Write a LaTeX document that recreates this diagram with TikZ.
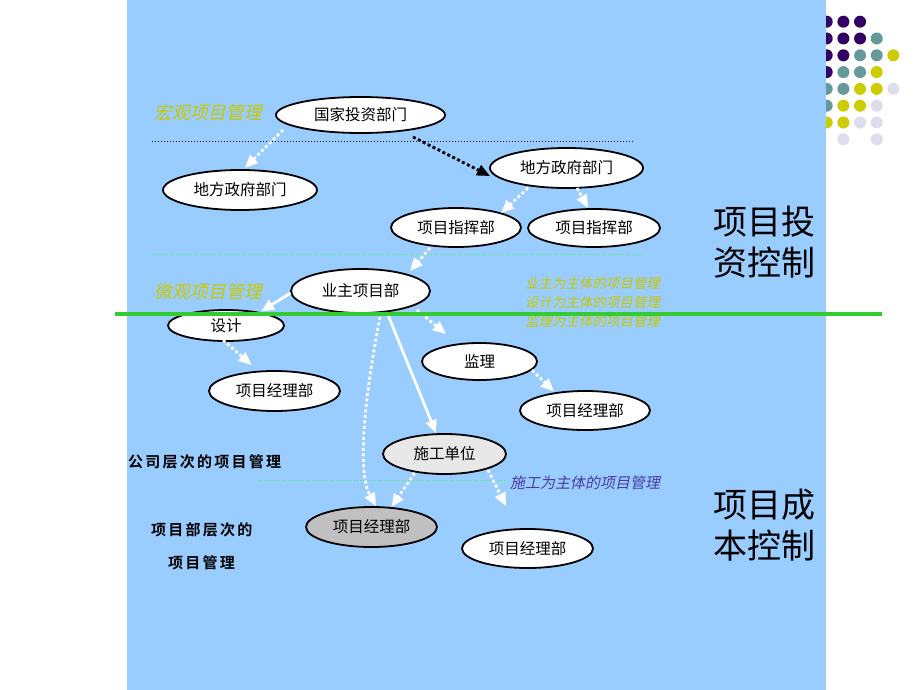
\documentclass[tikz,border=0pt]{standalone}
\usepackage{fontspec}
\setmainfont{Noto Sans CJK SC}
\newfontfamily\cjkit{Noto Sans CJK SC}[FakeSlant=0.2]
\newfontfamily\cjkbold{Noto Sans CJK SC Bold}[LetterSpace=15]
\usetikzlibrary{shapes.geometric,arrows.meta}
\definecolor{bgblue}{HTML}{99CCFF}
\definecolor{gline}{HTML}{33CC33}
\definecolor{ylw}{HTML}{C8C800}
\definecolor{purp}{HTML}{4A3AA0}
\definecolor{dotP}{HTML}{330066}
\definecolor{dotT}{HTML}{669999}
\definecolor{dotY}{HTML}{CCCC00}
\definecolor{dotL}{HTML}{DDDDEE}
\definecolor{lgrey}{HTML}{E8E8E8}
\definecolor{mgrey}{HTML}{C0C0C0}
\definecolor{gdot}{HTML}{33FF33}
\begin{document}
\begin{tikzpicture}[x=1pt,y=-1pt,
  ell/.style={ellipse,draw=black,line width=1.8pt,fill=white,inner sep=0pt,
    font=\fontsize{15.5}{15.5}\selectfont},
  warr/.style={draw=white,line width=2.8pt,-{Triangle[length=13pt,width=11pt]}},
  wdot/.style={warr,dash pattern=on 3pt off 2.5pt},
  bdot/.style={draw=black,line width=2.8pt,dash pattern=on 3pt off 2.5pt,
    -{Triangle[length=13pt,width=11pt]}},
  ylab/.style={text=ylw,inner sep=0pt,font=\cjkit\fontsize{18}{18}\selectfont},
  ysmall/.style={text=ylw,inner sep=0pt,anchor=west,font=\cjkit\fontsize{13.5}{13.5}\selectfont},
  plab/.style={text=purp,inner sep=0pt,anchor=west,font=\cjkit\fontsize{15}{15}\selectfont},
  blab/.style={text=black,inner sep=0pt,anchor=west,font=\cjkbold\fontsize{15}{15}\selectfont},
  big/.style={text=black,inner sep=0pt,anchor=west,font=\fontsize{34}{41.5}\selectfont,align=left}
]
\useasboundingbox (0,0) rectangle (920,690);
\fill[white] (0,0) rectangle (920,690);
% decorative dot grid
\foreach \c/\r/\col in {0/0/dotP,1/0/dotP,2/0/dotP,
  0/1/dotP,1/1/dotP,2/1/dotP,3/1/dotT,
  0/2/dotP,1/2/dotP,2/2/dotT,3/2/dotT,4/2/dotY,
  0/3/dotP,1/3/dotT,2/3/dotT,3/3/dotY,
  0/4/dotT,1/4/dotT,2/4/dotY,3/4/dotY,4/4/dotL,
  0/5/dotT,1/5/dotY,2/5/dotY,3/5/dotL,
  0/6/dotY,1/6/dotY,2/6/dotL,3/6/dotL,
  1/7/dotL,3/7/dotL}
  \fill[\col] (826.7+16.67*\c,21.7+16.8*\r) circle (6);
\fill[bgblue] (127,0) rectangle (826,690);
% guide lines
\draw[black,line width=1pt,dash pattern=on 1pt off 2pt] (152,141) -- (633,141);
\draw[gdot,line width=1pt,dash pattern=on 1pt off 2pt] (152,254) -- (643,254);
\draw[gdot,line width=1pt,dash pattern=on 1pt off 2pt] (258,480) -- (508,480);
% nodes
\node[ell,minimum width=169pt,minimum height=36pt] (n1) at (360.5,115) {国家投资部门};
\node[ell,minimum width=154pt,minimum height=40pt] (n2) at (240,190) {地方政府部门};
\node[ell,minimum width=153pt,minimum height=40pt] (n3) at (566.5,168) {地方政府部门};
\node[ell,minimum width=130pt,minimum height=39pt] (n4) at (456,227.5) {项目指挥部};
\node[ell,minimum width=132pt,minimum height=38pt] (n5) at (594,228) {项目指挥部};
\node[ell,minimum width=139pt,minimum height=44pt] (n6) at (360.5,291) {业主项目部};
\node[ell,minimum width=116pt,minimum height=31pt] (n7) at (226,325.5) {设计};
\node[ell,minimum width=131pt,minimum height=40pt] (n8) at (274.5,391) {项目经理部};
\node[ell,minimum width=115pt,minimum height=37pt] (n9) at (479.5,361.5) {监理};
\node[ell,minimum width=130pt,minimum height=39pt] (n10) at (585,410.5) {项目经理部};
\node[ell,fill=lgrey,minimum width=123pt,minimum height=40pt] (n11) at (444.5,454) {施工单位};
\node[ell,fill=mgrey,minimum width=131pt,minimum height=40pt] (n12) at (371.5,527) {项目经理部};
\node[ell,minimum width=131pt,minimum height=39pt] (n13) at (527.5,548.5) {项目经理部};
\coordinate (free) at (506,506);
% connectors
\draw[wdot] ([shift={(-77.5,15)}]n1.center) -- ([shift={(5,-22)}]n2.center);
\draw[bdot] ([shift={(52.5,22)}]n1.center) -- ([shift={(-76.5,8)}]n3.center);
\draw[wdot] ([shift={(-38.5,20)}]n3.center) -- ([shift={(45,-14.5)}]n4.center);
\draw[wdot] ([shift={(10.5,20)}]n3.center) -- ([shift={(-6,-20)}]n5.center);
\draw[wdot] ([shift={(-26,20.5)}]n4.center) -- ([shift={(49.5,-20)}]n6.center);
\draw[warr] ([shift={(-70,2)}]n6.center) -- ([shift={(35,-14)}]n7.center);
\draw[wdot] ([shift={(56.5,19)}]n6.center) -- ([shift={(-33.5,-27.5)}]n9.center);
\draw[warr] ([shift={(27.5,24)}]n6.center) -- ([shift={(-8.5,-21)}]n11.center);
\draw[wdot] ([shift={(19.5,26)}]n6.center) .. controls (366,390) and (356,470) .. ([shift={(4.5,-21)}]n12.center);
\draw[wdot] ([shift={(-3,14.5)}]n7.center) -- ([shift={(-23,-26)}]n8.center);
\draw[wdot] ([shift={(52.5,8.5)}]n9.center) -- ([shift={(-31,-19)}]n10.center);
\draw[wdot] ([shift={(-30,19)}]n11.center) -- ([shift={(20,-20)}]n12.center);
\draw[wdot] ([shift={(43.5,16)}]n11.center) -- (free);
% labels
\node[ylab] (l1) at (208,113) {宏观项目管理};
\node[ylab] (l2) at (208,292) {微观项目管理};
\node[ysmall] (l3) at (525,283) {业主为主体的项目管理};
\node[ysmall] (l4) at (525,302.5) {设计为主体的项目管理};
\node[ysmall] (l5) at (525,321.5) {监理为主体的项目管理};
\node[plab] (l6) at (510,482.5) {施工为主体的项目管理};
\node[blab] (l7) at (128,462) {公司层次的项目管理};
\node[blab] (l8) at (151,530) {项目部层次的};
\node[blab] (l9) at (168,563) {项目管理};
\node[big] (b1) at (713,242) {项目投\\资控制};
\node[big] (b2) at (713,525) {项目成\\本控制};
% green separator
\draw[gline,line width=3.5pt] (115,314) -- (882,314);
\end{tikzpicture}
\end{document}
